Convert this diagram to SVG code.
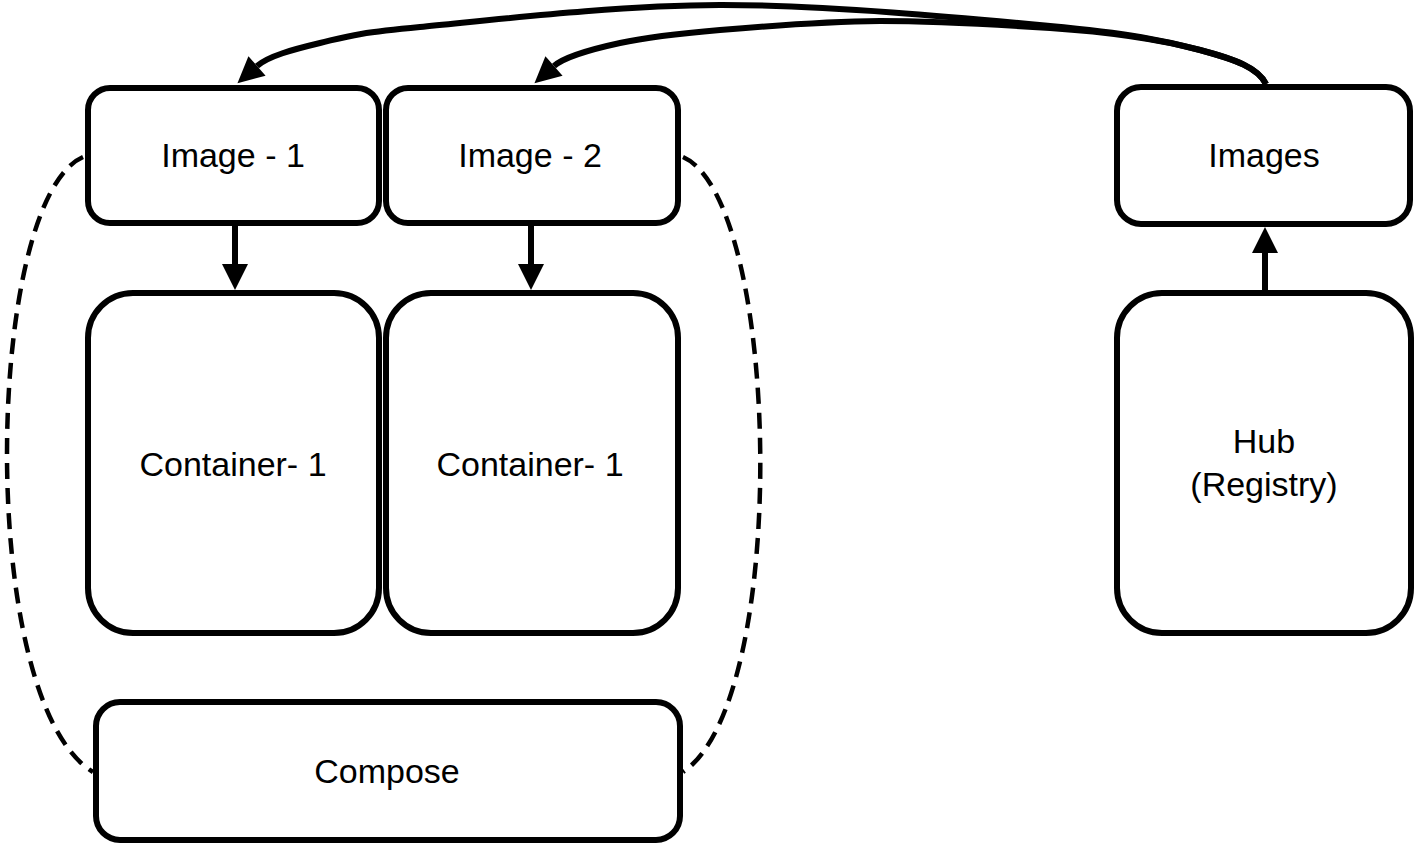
<svg xmlns="http://www.w3.org/2000/svg" width="1420" height="847" viewBox="0 0 1420 847">
<style>
.box{fill:#fff;stroke:#000;stroke-width:6}
.lbl{font-family:"Liberation Sans",Arial,sans-serif;font-size:34px;fill:#000;text-anchor:middle}
.conn{fill:none;stroke:#000;stroke-width:6}
.dash{fill:none;stroke:#000;stroke-width:4.5;stroke-dasharray:16 9}
</style>
<defs>
<marker id="ah" viewBox="0 -14 28 28" markerWidth="28" markerHeight="28" refX="0" refY="0" orient="auto" markerUnits="userSpaceOnUse" overflow="visible">
<path d="M0,-13 L26,0 L0,13 Z" fill="#000"/>
</marker>
</defs>
<rect width="1420" height="847" fill="#fff"/>
<g id="connectors">
<path class="dash" d="M83,157 C-15,200 -25,700 93,772"/>
<path class="dash" d="M683,157 C781,200 791,700 683,772"/>
<line class="conn" x1="235" y1="226" x2="235" y2="264" marker-end="url(#ah)"/>
<line class="conn" x1="531" y1="226" x2="531" y2="264" marker-end="url(#ah)"/>
<line class="conn" x1="1265" y1="290" x2="1265" y2="253" marker-end="url(#ah)"/>
<path class="conn" marker-end="url(#ah)" d="M1266,84 C1258,68 1236,59.7 1200,50 C1164,40.3 1130,33.5 1050,26 C970,18.5 825,4.8 720,5 C615,5.2 486.7,20.7 420,27 C353.3,33.3 347.2,36.5 320,43 C292.8,49.5 268.3,56.1 257,66"/>
<path class="conn" marker-end="url(#ah)" d="M1266,84 C1258,68 1236,59.5 1200,50 C1164,40.5 1110,32 1050,28 C996.7,24.5 935,21 880,21 C825,21.5 763.3,26.3 720,30 C676.7,33.7 647.7,37 620,43 C592.3,49 565.3,56.1 554,66"/>
</g>
<g id="image1"><rect class="box" x="88" y="88" width="291" height="135" rx="22"/><text class="lbl" x="233" y="167">Image - 1</text></g>
<g id="image2"><rect class="box" x="386" y="88" width="292" height="135" rx="22"/><text class="lbl" x="530" y="167">Image - 2</text></g>
<g id="container1"><rect class="box" x="88" y="293" width="291" height="340" rx="45"/><text class="lbl" x="233" y="476">Container- 1</text></g>
<g id="container2"><rect class="box" x="386" y="293" width="292" height="340" rx="45"/><text class="lbl" x="530" y="476">Container- 1</text></g>
<g id="compose"><rect class="box" x="96" y="702" width="584" height="138" rx="24"/><text class="lbl" x="387" y="783">Compose</text></g>
<g id="images"><rect class="box" x="1117" y="87" width="293" height="137" rx="24"/><text class="lbl" x="1264" y="167">Images</text></g>
<g id="hub"><rect class="box" x="1117" y="293" width="294" height="340" rx="45"/><text class="lbl" x="1264" y="453">Hub</text><text class="lbl" x="1264" y="496">(Registry)</text></g>
</svg>
